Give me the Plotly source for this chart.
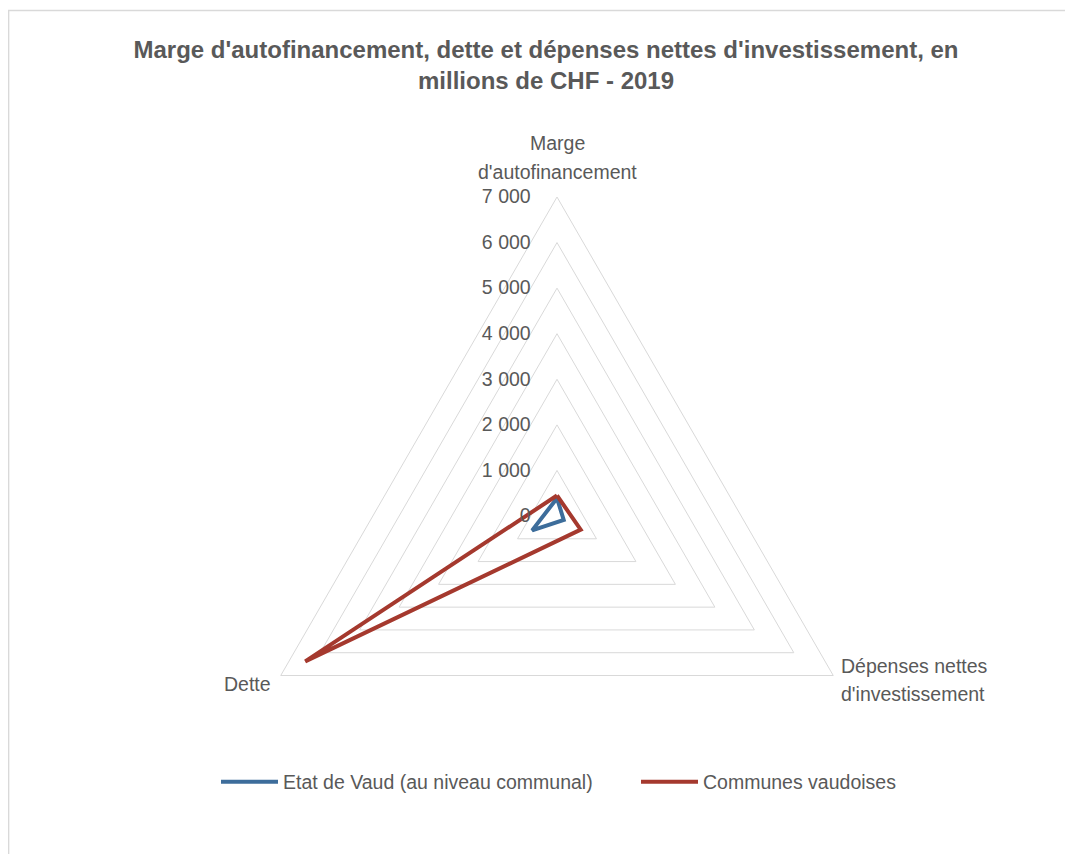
import plotly.graph_objects as go

categories = ["Marge d'autofinancement", "Dépenses nettes d'investissement", "Dette"]
category_lines = [["Marge", "d'autofinancement"], ["Dépenses nettes", "d'investissement"], ["Dette"]]
etat_vaud = [390, 170, 630]
communes = [450, 600, 6380]
series_names = ["Etat de Vaud (au niveau communal)", "Communes vaudoises"]
tick_vals = [0, 1000, 2000, 3000, 4000, 5000, 6000, 7000]
tick_text = ["0", "1 000", "2 000", "3 000", "4 000", "5 000", "6 000", "7 000"]

OFF = 8  # default body margin of the html page
W, H = 1073 - OFF, 854 - OFF
FONT = "Liberation Sans, Arial, sans-serif"
GRAY = "#595959"
GRID = "#D9D9D9"


def fx(px):
    return (px - OFF) / W


def fy(py):
    return 1 - (py - OFF) / H


fig = go.Figure()
for name, vals, col, lw in [(series_names[0], etat_vaud, "#3D6D9B", 348),
                            (series_names[1], communes, "#A5392E", 200)]:
    fig.add_trace(go.Scatterpolar(
        r=vals + vals[:1], theta=categories + categories[:1],
        mode="lines", name=name, legendwidth=lw,
        line=dict(color=col, width=4),
        hoverinfo="skip",
    ))

cx, cy, R = 557, 516, 319

annotations = []
# category labels, one annotation per line
label_specs = [
    (category_lines[0], 557, [143, 172], "center"),
    (category_lines[1], 839, [666, 694], "left"),
    (category_lines[2], 273, [684], "right"),
]
for lines, x, ys, anchor in label_specs:
    for txt, y in zip(lines, ys):
        annotations.append(dict(text=txt, x=fx(x), y=fy(y), xref="paper", yref="paper",
                                xanchor=anchor, yanchor="middle", showarrow=False,
                                font=dict(family=FONT, size=19.5, color=GRAY)))

fig.update_layout(
    width=W, height=H,
    margin=dict(l=0, r=0, t=0, b=0),
    paper_bgcolor="white", plot_bgcolor="white",
    font=dict(family=FONT, size=19.5, color=GRAY),
    title=dict(text="<b>Marge d'autofinancement, dette et dépenses nettes d'investissement, en<br>millions de CHF - 2019</b>",
               x=fx(546), xanchor="center", y=fy(58), yanchor="top",
               font=dict(family=FONT, size=24, color=GRAY)),
    polar=dict(
        domain=dict(x=[fx(cx - R), fx(cx + R)], y=[fy(cy + R), fy(cy - R)]),
        gridshape="linear",
        bgcolor="white",
        radialaxis=dict(range=[0, 7000], tickvals=tick_vals, ticktext=tick_text,
                        angle=90, tickangle=90, side="counterclockwise",
                        showline=False, ticks="outside", ticklen=19,
                        tickcolor="rgba(0,0,0,0)",
                        gridcolor=GRID, gridwidth=1,
                        tickfont=dict(family=FONT, size=19.5, color=GRAY)),
        angularaxis=dict(rotation=90, direction="clockwise", showgrid=False,
                         showline=True, linecolor=GRID, linewidth=1, ticks="",
                         showticklabels=False),
    ),
    showlegend=True,
    legend=dict(orientation="h", x=fx(216), xanchor="left", y=fy(782), yanchor="middle",
                itemwidth=57,
                font=dict(family=FONT, size=19.5, color=GRAY), bgcolor="rgba(0,0,0,0)"),
    annotations=annotations,
    shapes=[dict(type="rect", xref="paper", yref="paper",
                 x0=0.6 / W, x1=1.05, y0=-0.05, y1=fy(10.5),
                 line=dict(color=GRID, width=1.5), fillcolor="rgba(0,0,0,0)", layer="below")],
)

fig.write_html("out.html")
